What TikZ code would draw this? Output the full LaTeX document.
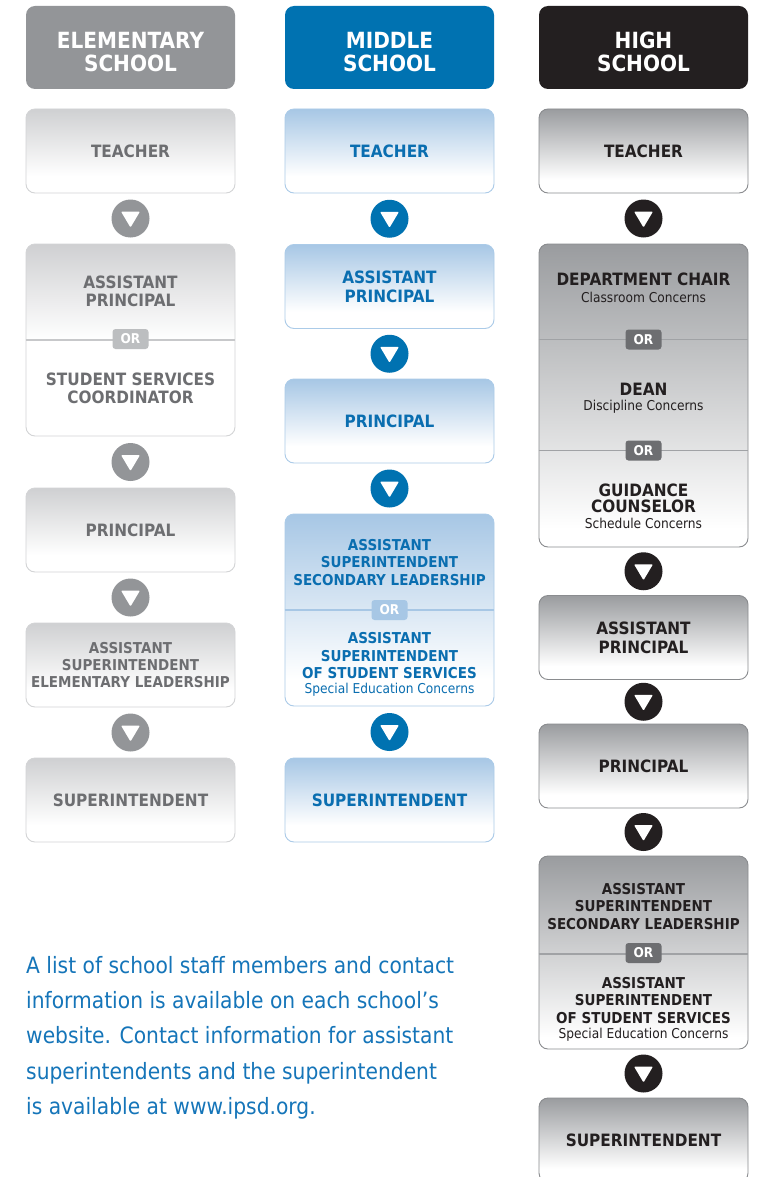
\documentclass[tikz,border=0pt]{standalone}
\usepackage{fontspec}
\usetikzlibrary{calc}
\newfontfamily\vfam[FakeStretch=0.9]{DejaVu Sans}
\newfontfamily\pfam[FakeStretch=0.9]{DejaVu Sans}
\newcommand\myboxfont{\vfam\bfseries\fontsize{17}{19}\selectfont}
\newcommand\mylongfont{\vfam\bfseries\fontsize{15}{17.5}\selectfont}
\newcommand\myhdrfont{\vfam\bfseries\fontsize{22.3}{22.7}\selectfont}
\newcommand\mysmall{\vfam\mdseries\fontsize{13.6}{15}\selectfont}
\newcommand\myorfont{\vfam\bfseries\fontsize{13.5}{13.5}\selectfont}
\newcommand\myparafont{\pfam\fontsize{22.5}{35.4}\selectfont}
\definecolor{ehdr}{HTML}{939598}
\definecolor{etop}{HTML}{CFD0D2}
\definecolor{eborder}{HTML}{D3D4D6}
\definecolor{etext}{HTML}{6D6E71}
\definecolor{eor}{HTML}{BCBEC0}
\definecolor{edivc}{HTML}{C7C8CA}
\definecolor{mhdr}{HTML}{0072B1}
\definecolor{mtop}{HTML}{A7C7E5}
\definecolor{mborder}{HTML}{ABCBE8}
\definecolor{mtext}{HTML}{0A6EB0}
\definecolor{mor}{HTML}{A7C7E5}
\definecolor{mdivc}{HTML}{A7C7E5}
\definecolor{hhdr}{HTML}{231F20}
\definecolor{htop}{HTML}{9A9C9F}
\definecolor{hborder}{HTML}{8A8C8F}
\definecolor{htext}{HTML}{231F20}
\definecolor{hor}{HTML}{6D6E71}
\definecolor{hdivc}{HTML}{A0A2A5}
\definecolor{paratext}{HTML}{1575B9}
\pgfdeclareverticalshading{eshade}{100bp}{color(0bp)=(white); color(35bp)=(white); color(75bp)=(etop); color(100bp)=(etop)}
\pgfdeclareverticalshading{eshadetall}{100bp}{color(0bp)=(white); color(50bp)=(white); color(75bp)=(etop); color(100bp)=(etop)}
\pgfdeclareverticalshading{mshade}{100bp}{color(0bp)=(white); color(35bp)=(white); color(75bp)=(mtop); color(100bp)=(mtop)}
\pgfdeclareverticalshading{mshadetall}{100bp}{color(0bp)=(white); color(32bp)=(white); color(75bp)=(mtop); color(100bp)=(mtop)}
\pgfdeclareverticalshading{hshade}{100bp}{color(0bp)=(white); color(33bp)=(white); color(75bp)=(htop); color(100bp)=(htop)}
\pgfdeclareverticalshading{hshadetall}{100bp}{color(0bp)=(white); color(28bp)=(white); color(75bp)=(htop); color(100bp)=(htop)}
\tikzset{
  box/.style={rounded corners=9pt, minimum width=209pt, inner sep=0pt, line width=0.9pt, align=center, font=\myboxfont, shade},
  ebox/.style={box, draw=eborder, shading=eshade, text=etext},
  eboxtall/.style={box, draw=eborder, shading=eshadetall},
  mbox/.style={box, draw=mborder, shading=mshade, text=mtext},
  mboxtall/.style={box, draw=mborder, shading=mshadetall},
  hbox/.style={box, draw=hborder, shading=hshade, text=htext},
  hboxtall/.style={box, draw=hborder, shading=hshadetall},
  hdr/.style={rounded corners=9pt, minimum width=209pt, minimum height=83pt, inner sep=0pt},
  hdrtext/.style={align=center, font=\myhdrfont, text=white, inner sep=0pt},
  orb/.style={rounded corners=3pt, minimum width=36pt, minimum height=20pt, inner sep=0pt, font=\myorfont, text=white},
  circ/.style={circle, minimum size=38pt, inner sep=0pt,
    path picture={\fill[white, rounded corners=1pt]
      ($(path picture bounding box.center)+(-9.5,-7)$) --
      ($(path picture bounding box.center)+(9.5,-7)$) --
      ($(path picture bounding box.center)+(0,9)$) -- cycle;}},
  txt/.style={align=center, inner sep=0pt, anchor=north, font=\myboxfont},
  longtxt/.style={align=center, inner sep=0pt, anchor=north, font=\mylongfont},
  divline/.style={line width=1.2pt},
}
\begin{document}
\begin{tikzpicture}[x=1pt,y=-1pt]
\useasboundingbox (0,0) rectangle (768,1177);
\fill[white] (0,0) rectangle (768,1177);

% ---------------- Elementary ----------------
\node[hdr, fill=ehdr] (eh) at (130.5,47.5) {};
\node[hdrtext] (eht) at (130.5,51.7) {ELEMENTARY\\SCHOOL};
\node[ebox, minimum height=84pt] (e1) at (130.5,151) {\raisebox{-1.2pt}{TEACHER}};
\node[eboxtall, minimum height=192pt] (e2) at (130.5,340) {};
\draw[divline, edivc] (e2.west |- 0,340) -- (e2.east |- 0,340);
\node[orb, fill=eor] (eor1) at (130.5,339) {OR};
\node[txt, text=etext] (e2a) at (130.5,275.5) {ASSISTANT\\[-0.4pt]PRINCIPAL};
\node[txt, text=etext] (e2b) at (130.5,372.5) {STUDENT SERVICES\\[-0.4pt]COORDINATOR};
\node[ebox, minimum height=84pt] (e3) at (130.5,530) {\raisebox{-1.2pt}{PRINCIPAL}};
\node[ebox, minimum height=84pt, font=\mylongfont] (e4) at (130.5,665) {ASSISTANT\\[-0.2pt]SUPERINTENDENT\\[-0.2pt]ELEMENTARY LEADERSHIP};
\node[ebox, minimum height=84pt] (e5) at (130.5,800) {\raisebox{-0.6pt}{SUPERINTENDENT}};
\node[circ, fill=ehdr] (ec1) at ($(e1.south)!0.5!(e2.north)$) {};
\node[circ, fill=ehdr] (ec2) at ($(e2.south)!0.5!(e3.north)$) {};
\node[circ, fill=ehdr] (ec3) at ($(e3.south)!0.5!(e4.north)$) {};
\node[circ, fill=ehdr] (ec4) at ($(e4.south)!0.5!(e5.north)$) {};

% ---------------- Middle ----------------
\node[hdr, fill=mhdr] (mh) at (389.5,47.5) {};
\node[hdrtext] (mht) at (389.5,51.7) {MIDDLE\\SCHOOL};
\node[mbox, minimum height=84pt] (m1) at (389.5,151) {\raisebox{-1.2pt}{TEACHER}};
\node[mbox, minimum height=84pt] (m2) at (389.5,286.5) {ASSISTANT\\PRINCIPAL};
\node[mbox, minimum height=84pt] (m3) at (389.5,421) {\raisebox{-0.8pt}{PRINCIPAL}};
\node[mboxtall, minimum height=192pt] (m4) at (389.5,610) {};
\draw[divline, mdivc] (m4.west |- 0,610) -- (m4.east |- 0,610);
\node[orb, fill=mor] (mor1) at (389.5,610) {OR};
\node[longtxt, text=mtext] (m4a) at (389.5,539) {ASSISTANT\\SUPERINTENDENT\\SECONDARY LEADERSHIP};
\node[longtxt, text=mtext] (m4b) at (389.5,632.3) {ASSISTANT\\SUPERINTENDENT\\OF STUDENT SERVICES\\[-2.5pt]{\mysmall Special Education Concerns}};
\node[mbox, minimum height=84pt] (m5) at (389.5,800) {\raisebox{-0.6pt}{SUPERINTENDENT}};
\node[circ, fill=mhdr] (mc1) at ($(m1.south)!0.5!(m2.north)$) {};
\node[circ, fill=mhdr] (mc2) at ($(m2.south)!0.5!(m3.north)$) {};
\node[circ, fill=mhdr] (mc3) at ($(m3.south)!0.5!(m4.north)$) {};
\node[circ, fill=mhdr] (mc4) at ($(m4.south)!0.5!(m5.north)$) {};

% ---------------- High ----------------
\node[hdr, fill=hhdr] (hh) at (643.5,47.5) {};
\node[hdrtext] (hht) at (643.5,51.7) {HIGH\\SCHOOL};
\node[hbox, minimum height=84pt] (h1) at (643.5,151) {\raisebox{-1.2pt}{TEACHER}};
\node[hboxtall, minimum height=303pt] (h2) at (643.5,395.5) {};
\draw[divline, hdivc] (h2.west |- 0,339.5) -- (h2.east |- 0,339.5);
\draw[divline, hdivc] (h2.west |- 0,450.5) -- (h2.east |- 0,450.5);
\node[orb, fill=hor] (hor1) at (643.5,339.5) {OR};
\node[orb, fill=hor] (hor2) at (643.5,450.5) {OR};
\node[txt, text=htext] (h2a) at (643.5,272.8) {DEPARTMENT CHAIR\\[-2.3pt]{\mysmall Classroom Concerns}};
\node[txt, text=htext] (h2b) at (643.5,382.8) {DEAN\\[-3.6pt]{\mysmall Discipline Concerns}};
\node[txt, text=htext] (h2c) at (643.5,483.5) {GUIDANCE\\[-3pt]COUNSELOR\\[-3pt]{\mysmall Schedule Concerns}};
\node[hbox, minimum height=84pt] (h3) at (643.5,637.5) {ASSISTANT\\PRINCIPAL};
\node[hbox, minimum height=84pt] (h4) at (643.5,766) {\raisebox{-1pt}{PRINCIPAL}};
\node[hboxtall, minimum height=193pt] (h5) at (643.5,952.5) {};
\draw[divline, hdivc] (h5.west |- 0,954) -- (h5.east |- 0,954);
\node[orb, fill=hor] (hor3) at (643.5,953) {OR};
\node[longtxt, text=htext] (h5a) at (643.5,882.7) {ASSISTANT\\SUPERINTENDENT\\SECONDARY LEADERSHIP};
\node[longtxt, text=htext] (h5b) at (643.5,976.7) {ASSISTANT\\SUPERINTENDENT\\OF STUDENT SERVICES\\[-2.5pt]{\mysmall Special Education Concerns}};
\node[hbox, minimum height=84pt] (h6) at (643.5,1140) {\raisebox{-0.6pt}{SUPERINTENDENT}};
\node[circ, fill=hhdr] (hc1) at ($(h1.south)!0.5!(h2.north)$) {};
\node[circ, fill=hhdr] (hc2) at ($(h2.south)!0.5!(h3.north)$) {};
\node[circ, fill=hhdr] (hc3) at ($(h3.south)!0.5!(h4.north)$) {};
\node[circ, fill=hhdr] (hc4) at ($(h4.south)!0.5!(h5.north)$) {};
\node[circ, fill=hhdr] (hc5) at ($(h5.south)!0.5!(h6.north)$) {};

% ---------------- Note ----------------
\node[anchor=north west, inner sep=0pt, align=left, font=\myparafont, text=paratext] (note) at (26,955.8)
 {A list of school staff members and contact\\information is available on each school’s\\website. Contact information for assistant\\superintendents and the superintendent\\is available at www.ipsd.org.};
\end{tikzpicture}
\end{document}
